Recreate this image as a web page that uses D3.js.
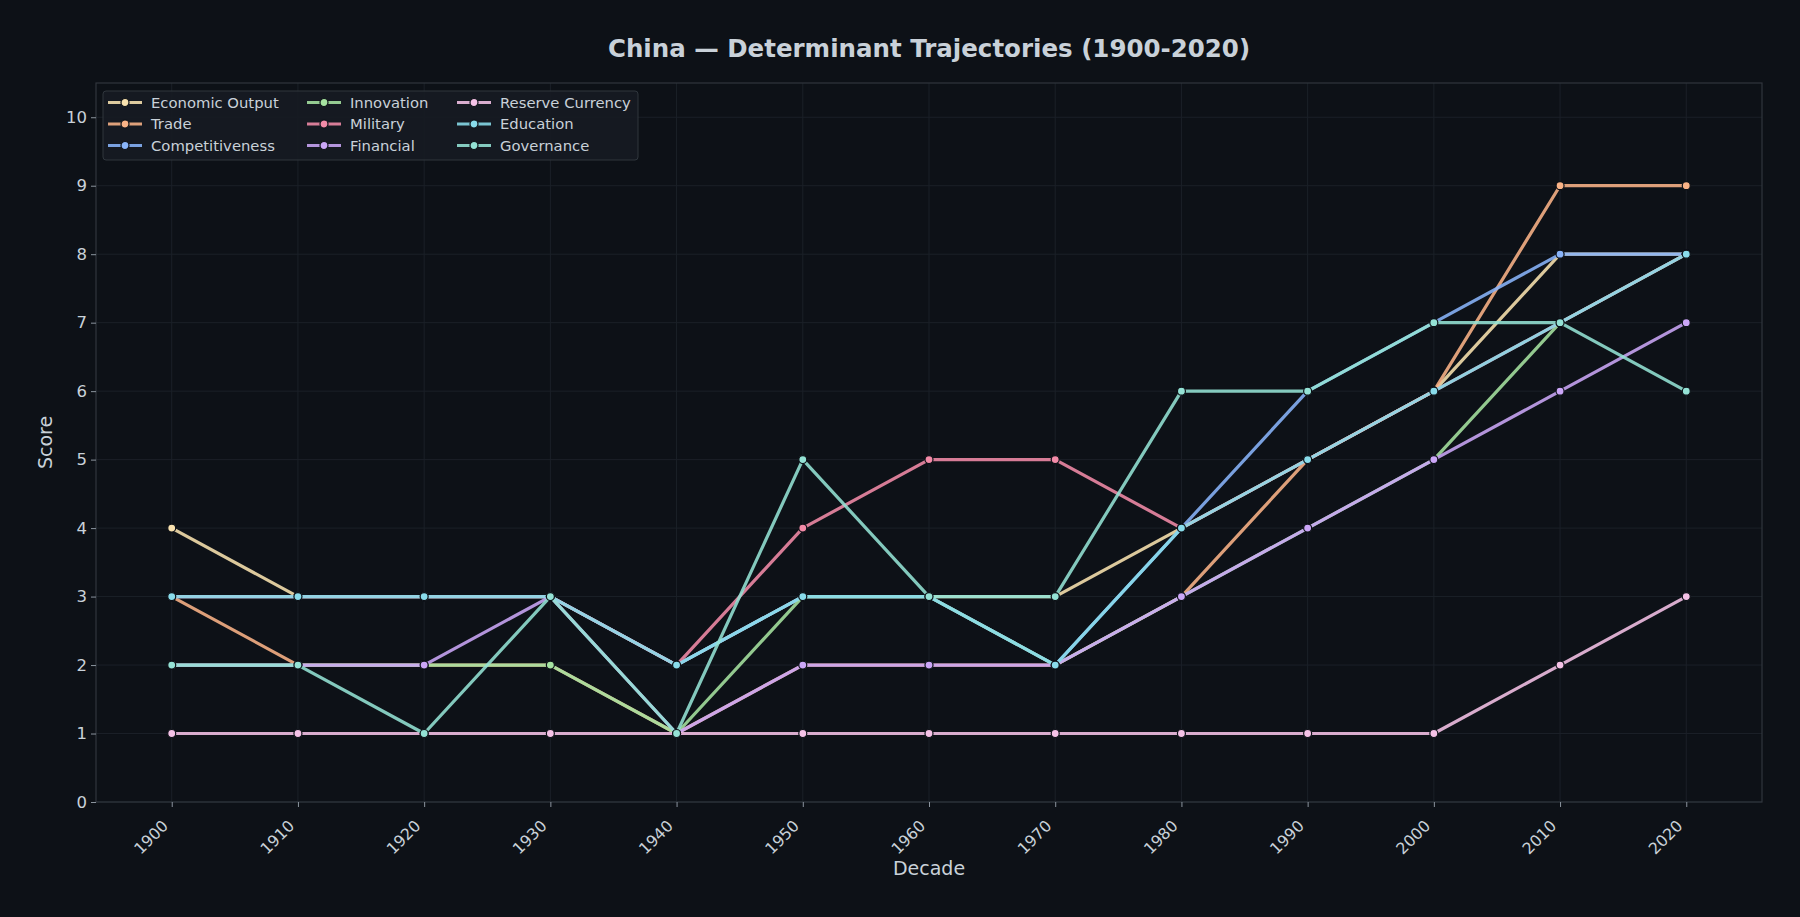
<!DOCTYPE html>
<html>
<head>
<meta charset="utf-8">
<script src="https://cdn.jsdelivr.net/npm/d3@7/dist/d3.min.js"></script>
<style>
  html, body { margin: 0; padding: 0; background: #0d1117; }
  svg { display: block; }
  text { font-family: "DejaVu Sans", sans-serif; }
</style>
</head>
<body>
<svg id="chart" width="1800" height="917"></svg>
<script>
// ---- data ----
const decades = [1900, 1910, 1920, 1930, 1940, 1950, 1960, 1970, 1980, 1990, 2000, 2010, 2020];
const seriesNames = ["Economic Output", "Trade", "Competitiveness", "Innovation", "Military", "Financial", "Reserve Currency", "Education", "Governance"];
const economicOutput  = [4, 3, 3, 3, 2, 3, 3, 3, 4, 5, 6, 8, 8];
const trade           = [3, 2, 2, 2, 1, 2, 2, 2, 3, 5, 6, 9, 9];
const competitiveness = [3, 3, 3, 3, 2, 3, 3, 2, 4, 6, 7, 8, 8];
const innovation      = [2, 2, 2, 2, 1, 3, 3, 2, 3, 4, 5, 7, 8];
const military        = [3, 3, 3, 3, 2, 4, 5, 5, 4, 5, 6, 7, 8];
const financial       = [2, 2, 2, 3, 1, 2, 2, 2, 3, 4, 5, 6, 7];
const reserveCurrency = [1, 1, 1, 1, 1, 1, 1, 1, 1, 1, 1, 2, 3];
const education       = [3, 3, 3, 3, 2, 3, 3, 2, 4, 5, 6, 7, 8];
const governance      = [2, 2, 1, 3, 1, 5, 3, 3, 6, 6, 7, 7, 6];
const yTicks = [0, 1, 2, 3, 4, 5, 6, 7, 8, 9, 10];
const seriesValues = [economicOutput, trade, competitiveness, innovation, military, financial, reserveCurrency, education, governance];
const colors = ["#f9e2af", "#fab387", "#89b4fa", "#a6e3a1", "#f38ba8", "#cba6f7", "#f5c2e7", "#89dceb", "#94e2d5"];

// ---- layout ----
const W = 1800, H = 917;
const m = { left: 96, right: 1762, top: 83, bottom: 802 };
const textColor = "#c9d1d9";

const svg = d3.select("#chart");
svg.append("rect").attr("width", W).attr("height", H).attr("fill", "#0d1117");

const x = d3.scaleLinear().domain([1894, 2026]).range([m.left, m.right]);
const y = d3.scaleLinear().domain([0, 10.5]).range([m.bottom, m.top]);

// grid
const grid = svg.append("g");
grid.selectAll("line.vg").data(decades).enter().append("line")
  .attr("x1", d => x(d)).attr("x2", d => x(d))
  .attr("y1", m.top).attr("y2", m.bottom)
  .attr("stroke", "#1b2028").attr("stroke-width", 1);
grid.selectAll("line.hg").data(yTicks).enter().append("line")
  .attr("x1", m.left).attr("x2", m.right)
  .attr("y1", d => y(d)).attr("y2", d => y(d))
  .attr("stroke", "#1b2028").attr("stroke-width", 1);

// frame
svg.append("rect")
  .attr("x", m.left).attr("y", m.top)
  .attr("width", m.right - m.left).attr("height", m.bottom - m.top)
  .attr("fill", "none").attr("stroke", "#30363d").attr("stroke-width", 1.2);

// axes
const yAxis = d3.axisLeft(y).tickValues(yTicks).tickFormat(d3.format("d")).tickSize(5).tickPadding(4);
const gy = svg.append("g").attr("transform", `translate(${m.left},0)`).call(yAxis);
gy.select(".domain").remove();
gy.selectAll(".tick line").attr("stroke", "#8b949e");
gy.selectAll(".tick text").attr("fill", textColor).attr("font-size", 16.5).attr("font-family", "DejaVu Sans");

const xAxis = d3.axisBottom(x).tickValues(decades).tickFormat(d3.format("d")).tickSize(5);
const gx = svg.append("g").attr("transform", `translate(0,${m.bottom})`).call(xAxis);
gx.select(".domain").remove();
gx.selectAll(".tick line").attr("stroke", "#8b949e");
gx.selectAll(".tick text")
  .attr("fill", textColor).attr("font-size", 15.8).attr("font-family", "DejaVu Sans")
  .attr("text-anchor", "end")
  .attr("y", 0).attr("dy", "0.35em")
  .attr("transform", "translate(-7,21) rotate(-45)");

// lines
const line = d3.line().x((d, i) => x(decades[i])).y(d => y(d));
const plot = svg.append("g");
seriesValues.forEach((vals, si) => {
  const g = plot.append("g");
  g.append("path").datum(vals)
    .attr("d", line)
    .attr("fill", "none")
    .attr("stroke", colors[si])
    .attr("stroke-opacity", 0.88)
    .attr("stroke-width", 3.2)
    .attr("stroke-linejoin", "round");
  g.selectAll("circle").data(vals).enter().append("circle")
    .attr("cx", (d, i) => x(decades[i]))
    .attr("cy", d => y(d))
    .attr("r", 4)
    .attr("fill", colors[si])
    .attr("stroke", "#0d1117")
    .attr("stroke-width", 1.2);
});

// title & labels
svg.append("text")
  .attr("x", (m.left + m.right) / 2).attr("y", 57)
  .attr("text-anchor", "middle")
  .attr("font-size", 24.5).attr("font-weight", "bold")
  .attr("fill", textColor)
  .text("China — Determinant Trajectories (1900-2020)");

svg.append("text")
  .attr("x", (m.left + m.right) / 2).attr("y", 875)
  .attr("text-anchor", "middle")
  .attr("font-size", 19)
  .attr("fill", textColor)
  .text("Decade");

svg.append("text")
  .attr("transform", `translate(52,${(m.top + m.bottom) / 2}) rotate(-90)`)
  .attr("text-anchor", "middle")
  .attr("font-size", 19)
  .attr("fill", textColor)
  .text("Score");

// legend
const lg = svg.append("g");
lg.append("rect")
  .attr("x", 103).attr("y", 91).attr("width", 535).attr("height", 69)
  .attr("rx", 3)
  .attr("fill", "#161b22").attr("fill-opacity", 0.9)
  .attr("stroke", "#30363d").attr("stroke-width", 1);
const colX = [108, 307, 457];
const rowY = [102.5, 124, 145.5];
seriesNames.forEach((name, i) => {
  const cx = colX[Math.floor(i / 3)], cy = rowY[i % 3];
  const item = lg.append("g").attr("transform", `translate(${cx},${cy})`);
  item.append("line").attr("x1", 0).attr("x2", 34).attr("y1", 0).attr("y2", 0)
    .attr("stroke", colors[i]).attr("stroke-opacity", 0.88).attr("stroke-width", 3.2);
  item.append("circle").attr("cx", 17).attr("cy", 0).attr("r", 4)
    .attr("fill", colors[i]).attr("stroke", "#0d1117").attr("stroke-width", 1.2);
  item.append("text").attr("x", 43).attr("y", 0).attr("dy", "0.35em")
    .attr("font-size", 14.8).attr("fill", textColor).text(name);
});
</script>
</body>
</html>
